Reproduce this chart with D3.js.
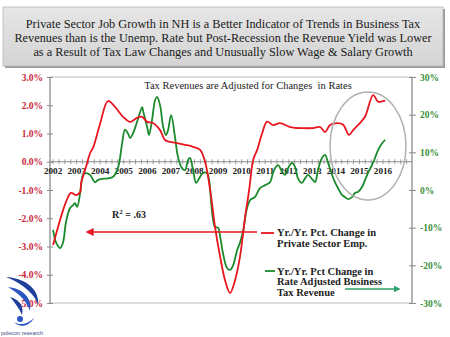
<!DOCTYPE html>
<html><head><meta charset="utf-8">
<script src="https://cdn.jsdelivr.net/npm/d3@7"></script>
<style>body{margin:0;background:#fff}svg{display:block}</style>
</head><body>
<svg id="c" width="450" height="337"></svg>
<script>
// ---- data (decimal year, value) ----
const titleLines = [
  "Private Sector Job Growth in NH is a Better Indicator of Trends in Business Tax",
  "Revenues than is the Unemp. Rate but Post-Recession the Revenue Yield was Lower",
  "as a Result of Tax Law Changes and Unusually Slow Wage & Salary  Growth"
];
const yearLabels = [2002,2003,2004,2005,2006,2007,2008,2009,2010,2011,2012,2013,2014,2015,2016];
const leftTicks = [3,2,1,0,-1,-2,-3,-4,-5];
const rightTicks = [30,20,10,0,-10,-20,-30];

const empYears = [2002.00,2002.55,2002.76,2002.98,2003.15,2003.19,2003.40,2003.57,2003.70,2003.99,2004.33,2004.63,2004.97,2005.27,2005.56,2005.78,2005.99,2006.24,2006.54,2006.75,2006.96,2007.26,2007.60,2007.94,2008.24,2008.45,2008.70,2008.87,2009.09,2009.30,2009.51,2009.72,2009.93,2010.15,2010.32,2010.49,2010.66,2010.87,2011.08,2011.33,2011.63,2012.06,2012.61,2013.03,2013.33,2013.54,2013.75,2014.05,2014.30,2014.56,2014.73,2015.02,2015.24,2015.58,2015.79,2016.09];
const empValues = [-2.95,-1.42,-1.10,-1.18,-1.07,-0.76,-0.18,0.30,0.50,1.33,2.15,1.94,1.59,1.41,1.55,1.59,1.41,1.37,1.12,0.77,0.70,0.66,0.60,0.53,0.42,0.00,-1.20,-2.30,-3.37,-4.20,-4.65,-4.20,-3.37,-1.95,-1.00,0.06,0.42,1.00,1.42,1.30,1.37,1.23,1.19,1.19,1.23,1.05,1.30,1.37,1.32,0.95,1.12,1.37,1.60,2.36,2.13,2.16];

const taxYears = [2002.00,2002.13,2002.30,2002.42,2002.55,2002.72,2002.85,2002.93,2003.02,2003.15,2003.19,2003.27,2003.40,2003.57,2003.78,2003.91,2004.12,2004.33,2004.55,2004.76,2004.93,2005.05,2005.18,2005.27,2005.39,2005.56,2005.78,2005.82,2005.99,2006.07,2006.20,2006.33,2006.41,2006.54,2006.67,2006.79,2006.88,2007.01,2007.18,2007.30,2007.47,2007.60,2007.73,2007.81,2007.94,2008.07,2008.19,2008.36,2008.53,2008.62,2008.70,2008.77,2008.87,2009.00,2009.09,2009.21,2009.38,2009.51,2009.64,2009.81,2009.93,2010.06,2010.23,2010.36,2010.57,2010.78,2011.00,2011.21,2011.33,2011.42,2011.55,2011.72,2011.84,2011.97,2012.14,2012.27,2012.39,2012.56,2012.69,2012.82,2012.99,2013.12,2013.24,2013.41,2013.54,2013.67,2013.84,2013.96,2014.09,2014.26,2014.39,2014.52,2014.69,2014.81,2014.94,2015.11,2015.24,2015.36,2015.53,2015.66,2015.79,2015.96,2016.09];
const taxValues = [-10.6,-14.0,-15.4,-14.0,-8.5,-4.8,-4.0,-3.5,-4.5,-0.8,1.3,4.0,4.5,4.0,2.1,2.7,3.0,3.1,3.5,6.0,12.4,16.0,15.0,13.8,15.0,18.0,22.0,21.0,16.8,14.6,18.6,23.9,24.7,22.5,16.8,14.6,15.9,19.9,13.8,8.8,5.8,5.3,8.0,8.5,5.3,1.9,3.0,4.5,4.5,2.7,-2.7,-7.0,-9.8,-10.0,-12.4,-16.8,-20.7,-21.2,-20.0,-16.0,-14.0,-11.0,-4.8,-2.7,-1.8,0.5,1.3,2.1,4.5,5.8,6.6,4.8,4.0,5.8,7.2,6.1,3.1,1.9,3.1,4.0,2.9,2.1,5.3,8.5,9.3,7.2,4.0,2.1,0.5,-1.3,-1.9,-2.4,-1.9,-0.8,-0.5,0.8,2.7,4.5,6.6,8.5,10.6,12.4,13.3];

// ---- layout ----
const svg = d3.select("#c");
const L = 50, R = 412, T = 77, B = 303;
const RED = "#e8161e", GREEN = "#1b8a2c", AXRED = "#c8283a", AXGREEN = "#3a8f3a";
const serif = "'Liberation Serif','Times New Roman',serif";

const x = d3.scaleLinear().domain([2001.87, 2017.23]).range([L, R]);
const yL = d3.scaleLinear().domain([-5, 3]).range([B, T]);
const yR = d3.scaleLinear().domain([-30, 30]).range([B, T]);

// title box
const defs = svg.append("defs");
const g = defs.append("linearGradient").attr("id","tg").attr("x1",0).attr("y1",0).attr("x2",0).attr("y2",1);
g.append("stop").attr("offset","0%").attr("stop-color","#e6e6e6");
g.append("stop").attr("offset","100%").attr("stop-color","#d4d4d4");
svg.append("rect").attr("x",5).attr("y",9).attr("width",440).attr("height",59).attr("fill","#9a9a9a");
svg.append("rect").attr("x",3).attr("y",7).attr("width",440).attr("height",59).attr("fill","url(#tg)").attr("stroke","#b8b8b8").attr("stroke-width",0.8);
svg.append("g").selectAll("text").data(titleLines).join("text")
  .attr("x",223).attr("y",(d,i)=>28+i*14).attr("text-anchor","middle")
  .attr("font-family",serif).attr("font-size",12.3).attr("fill","#1a1a1a").text(d=>d);

// plot frame
svg.append("rect").attr("x",L).attr("y",T).attr("width",R-L).attr("height",B-T)
  .attr("fill","none").attr("stroke","#bdbdbd").attr("stroke-width",1);
svg.append("line").attr("x1",L).attr("x2",L).attr("y1",T).attr("y2",B).attr("stroke","#8a8a8a");
svg.append("line").attr("x1",R).attr("x2",R).attr("y1",T).attr("y2",B).attr("stroke","#8a8a8a");

// left axis
const la = svg.append("g").attr("transform",`translate(${L},0)`)
  .call(d3.axisLeft(yL).tickValues(leftTicks).tickSize(4).tickFormat(d=>d.toFixed(1)+"%"));
la.select(".domain").remove();
la.selectAll("line").attr("stroke","#8a8a8a").attr("x2",3).attr("x1",-3);
la.selectAll("text").attr("x",-7).attr("font-family",serif).attr("font-size",9.5).attr("font-weight","bold").attr("fill",AXRED);

// right axis
const ra = svg.append("g").attr("transform",`translate(${R},0)`)
  .call(d3.axisRight(yR).tickValues(rightTicks).tickSize(4).tickFormat(d=>d+"%"));
ra.select(".domain").remove();
ra.selectAll("line").attr("stroke","#8a8a8a").attr("x1",-3).attr("x2",4);
ra.selectAll("text").attr("x",8).attr("font-family",serif).attr("font-size",9.5).attr("font-weight","bold").attr("fill",AXGREEN);

// x axis on 0% line
const y0 = yL(0);
svg.append("line").attr("x1",L).attr("x2",R).attr("y1",y0).attr("y2",y0).attr("stroke","#8a8a8a");
const minor = d3.range(2002, 2017.01, 0.25);
svg.append("g").selectAll("line").data(minor).join("line")
  .attr("x1",d=>x(d)).attr("x2",d=>x(d)).attr("y1",y0-2.5).attr("y2",y0+2.5).attr("stroke","#8a8a8a").attr("stroke-width",0.8);
svg.append("g").selectAll("text").data(yearLabels).join("text")
  .attr("x",d=>x(d)).attr("y",y0+12).attr("text-anchor","middle")
  .attr("font-family",serif).attr("font-size",9.2).attr("font-weight","bold").attr("fill","#222").text(d=>d);

// subtitle
svg.append("text").attr("x",248).attr("y",89).attr("text-anchor","middle")
  .attr("font-family",serif).attr("font-size",10.5).attr("fill","#222").attr("xml:space","preserve")
  .text("Tax Revenues are Adjusted for Changes  in Rates");

// lines
const lineEmp = d3.line().x((d,i)=>x(empYears[i])).y(d=>yL(d)).curve(d3.curveCatmullRom.alpha(0.5));
const lineTax = d3.line().x((d,i)=>x(taxYears[i])).y(d=>yR(d)).curve(d3.curveCatmullRom.alpha(0.5));
svg.append("path").attr("d",lineTax(taxValues)).attr("fill","none").attr("stroke",GREEN).attr("stroke-width",1.8);
svg.append("path").attr("d",lineEmp(empValues)).attr("fill","none").attr("stroke",RED).attr("stroke-width",1.8);

// ellipse
svg.append("ellipse").attr("cx",368).attr("cy",146).attr("rx",38).attr("ry",54)
  .attr("fill","none").attr("stroke","#b0b0b0").attr("stroke-width",1.5);

// R^2
const rt = svg.append("text").attr("x",112).attr("y",218).attr("font-family",serif).attr("font-size",10).attr("font-weight","bold").attr("fill","#222");
rt.append("tspan").text("R");
rt.append("tspan").attr("dy",-4).attr("font-size",7).text("2");
rt.append("tspan").attr("dy",4).text(" = .63");

// red arrow
defs.append("marker").attr("id","ar").attr("viewBox","0 0 10 10").attr("refX",2).attr("refY",5)
  .attr("markerWidth",5).attr("markerHeight",5).attr("orient","auto-start-reverse")
  .append("path").attr("d","M0,0L10,5L0,10z").attr("fill",RED);
svg.append("line").attr("x1",257).attr("x2",92).attr("y1",232).attr("y2",232).attr("stroke",RED).attr("stroke-width",1.6).attr("marker-end","url(#ar)");
defs.append("marker").attr("id","ag").attr("viewBox","0 0 10 10").attr("refX",2).attr("refY",5)
  .attr("markerWidth",5).attr("markerHeight",5).attr("orient","auto")
  .append("path").attr("d","M0,0L10,5L0,10z").attr("fill","#2ea06a");
svg.append("line").attr("x1",345).attr("x2",395).attr("y1",289).attr("y2",289).attr("stroke","#2ea06a").attr("stroke-width",1.4).attr("marker-end","url(#ag)");

// legend
svg.append("line").attr("x1",261).attr("x2",274).attr("y1",233).attr("y2",233).attr("stroke",RED).attr("stroke-width",1.8);
svg.append("line").attr("x1",265).attr("x2",275).attr("y1",271).attr("y2",271).attr("stroke",GREEN).attr("stroke-width",1.8);
const legTexts = [["Yr./Yr. Pct. Change in",236],["Private Sector Emp.",247],["Yr./Yr. Pct Change in",274.5],["Rate Adjusted Business",285],["Tax Revenue",295.5]];
svg.append("g").selectAll("text").data(legTexts).join("text")
  .attr("x",277).attr("y",d=>d[1]).attr("font-family",serif).attr("font-size",10.5).attr("font-weight","bold").attr("fill","#222").text(d=>d[0]);

// logo
const lg = svg.append("g");
lg.append("path").attr("d","M6,277 C26,278 40,290 38,305 C36,296 24,284 6,277Z").attr("fill","#1f3f9a");
lg.append("path").attr("d","M8,287 C24,289 32,298 30,311 C27,302 20,294 8,287Z").attr("fill","#2a56c0");
lg.append("path").attr("d","M10,297 C20,300 24,306 22,315 C19,308 15,303 10,297Z").attr("fill","#1f3f9a");
lg.append("circle").attr("cx",20).attr("cy",319).attr("r",3).attr("fill","#2a56c0");
lg.append("path").attr("d","M14,322 C20,326 28,324 34,318 C29,327 19,328 14,322Z").attr("fill","#2a56c0");
lg.append("text").attr("x",22).attr("y",335).attr("text-anchor","middle").attr("font-family","'Liberation Sans',sans-serif")
  .attr("font-size",5.5).attr("fill","#3a4f8a").text("polecon research");
</script>
</body></html>
